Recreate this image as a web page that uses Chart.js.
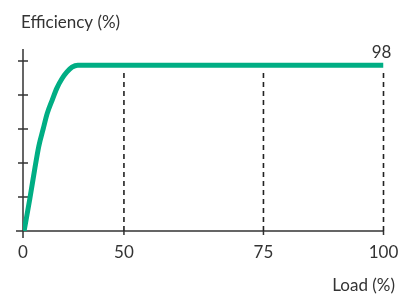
<!DOCTYPE html>
<html>
<head>
<meta charset="utf-8">
<script src="https://cdn.jsdelivr.net/npm/chart.js@4.4.1/dist/chart.umd.min.js"></script>
<style>
  html, body { margin: 0; background: #fff; }
</style>
</head>
<body>
<canvas id="chart" width="408" height="295"></canvas>
<script>
// x axis is schematic: labels don't sit at linear spots, so keep both
const TICK_LABELS = ["0", "50", "75", "100"];
const TICK_POS = [0, 28, 66.7, 100];
const Y_TICKS = [20, 40, 60, 80, 100];

// efficiency curve (x in axis position units, y in %)
const CURVE_X = [0.3, 1.9, 3.3, 4.4, 5.6, 6.7, 8.1, 9.4, 10.8, 12.2, 13.6, 15.2, 100];
const CURVE_Y = [0, 19, 37, 50, 60, 69, 77, 84, 89.5, 93.5, 96.3, 97.5, 97.5];
const PEAK = 98;
const DASH_TOP = 95;

const GREEN = "#00ae84";
const INK = "#333";
const FONT = "Lato, sans-serif";

const curve = CURVE_X.map((x, i) => ({ x, y: CURVE_Y[i] }));
const dashSets = TICK_POS.slice(1).map((x) => ({
  data: [{ x, y: 0 }, { x, y: DASH_TOP }],
  borderColor: "#222",
  borderWidth: 1.6,
  borderDash: [5, 4],
  pointRadius: 0,
  clip: false,
  order: 2,
}));

const axesPlugin = {
  id: "axes",
  beforeDatasetsDraw(chart) {
    const { ctx, chartArea, scales } = chart;
    const xs = scales.x, ys = scales.y;
    const x0 = xs.getPixelForValue(0);
    const y0 = ys.getPixelForValue(0);
    ctx.save();
    ctx.strokeStyle = INK;
    ctx.lineWidth = 1.5;
    ctx.beginPath();
    ctx.moveTo(x0, chartArea.top);
    ctx.lineTo(x0, y0 + 7);
    ctx.moveTo(x0 - 7, y0);
    ctx.lineTo(xs.getPixelForValue(100), y0);
    Y_TICKS.forEach((v) => {
      const y = ys.getPixelForValue(v);
      ctx.moveTo(x0 - 5, y);
      ctx.lineTo(x0 + 5, y);
    });
    TICK_POS.slice(1).forEach((p) => {
      const x = xs.getPixelForValue(p);
      ctx.moveTo(x, y0);
      ctx.lineTo(x, y0 + 4);
    });
    ctx.stroke();
    ctx.restore();
  },
  afterDraw(chart) {
    const { ctx, scales } = chart;
    const xs = scales.x, ys = scales.y;
    const y0 = ys.getPixelForValue(0);
    ctx.save();
    ctx.fillStyle = INK;
    ctx.font = "17px " + FONT;
    ctx.textAlign = "center";
    ctx.textBaseline = "alphabetic";
    TICK_LABELS.forEach((t, i) => ctx.fillText(t, xs.getPixelForValue(TICK_POS[i]), y0 + 27));
    ctx.fillText(String(PEAK), xs.getPixelForValue(100) - 2, ys.getPixelForValue(PEAK) - 6);
    ctx.textAlign = "left";
    ctx.fillText("Efficiency (%)", 21, 28);
    ctx.textAlign = "right";
    ctx.fillText("Load (%)", 395, 291);
    ctx.restore();
  },
};

new Chart(document.getElementById("chart"), {
  type: "line",
  data: {
    datasets: [
      {
        data: curve,
        borderColor: GREEN,
        borderWidth: 5,
        pointRadius: 0,
        cubicInterpolationMode: "monotone",
        order: 1,
      },
      ...dashSets,
    ],
  },
  options: {
    responsive: false,
    devicePixelRatio: 1,
    animation: false,
    layout: { padding: { left: 23, right: 24.5, top: 49, bottom: 64 } },
    plugins: { legend: { display: false }, tooltip: { enabled: false } },
    scales: {
      x: { type: "linear", min: 0, max: 100, display: false },
      y: { min: 0, max: 107, display: false },
    },
  },
  plugins: [axesPlugin],
});
</script>
</body>
</html>
